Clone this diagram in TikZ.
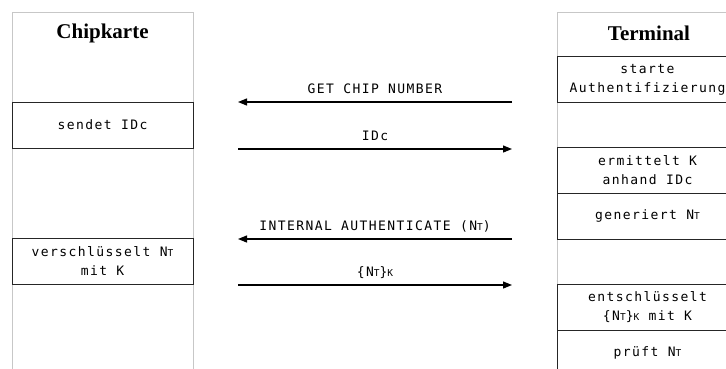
\documentclass[tikz,border=0pt]{standalone}
\usepackage{fontspec}
\setmainfont{Liberation Serif}
\newfontfamily\pixfont[LetterSpace=11]{DejaVu Sans Mono}
\usetikzlibrary{arrows.meta}
% small-capital index letters such as the T in N_T
\newcommand{\idx}[1]{{\fontsize{9.5}{9.5}\selectfont #1}}

\tikzset{
  lane/.style={draw=black!22, line width=1pt},
  stepbox/.style={draw=black!85, line width=1pt, minimum width=181pt,
    minimum height=46pt, align=center, inner sep=0pt,
    font={\pixfont\fontsize{13}{19}\selectfont}},
  head/.style={font={\bfseries\fontsize{21}{24}\selectfont}},
  msg/.style={line width=1.2pt, -{Triangle[length=9pt,width=7pt]}},
  lbl/.style={above, inner sep=7.5pt, text depth=0pt,
    font={\pixfont\fontsize{13}{14}\selectfont}}
}

\begin{document}
\begin{tikzpicture}[x=1pt, y=-1pt]
\useasboundingbox (0,0) rectangle (726,368);
\clip (0,0) rectangle (726,368);

% lanes
\draw[lane] (12,372) -- (12,12) -- (193,12) -- (193,372);
\draw[lane] (557,372) -- (557,12) -- (740,12) -- (740,372);

\node[head] (chip) at (102.5,33) {Chipkarte};
\node[head] (term) at (649,33) {Terminal};

% card side
\node[stepbox] (send) at (102.5,125) {sendet IDc};
\node[stepbox] (enc) at (102.5,261) {verschlüsselt N\idx{T}\\mit K};

% terminal side
\node[stepbox] (start) at (647.5,79.5) {starte\\Authentifizierung};
\node[stepbox] (find) at (647.5,170) {ermittelt K\\anhand IDc};
\node[stepbox] (gen) at (647.5,216) {generiert N\idx{T}};
\node[stepbox] (dec) at (647.5,307) {entschlüsselt\\\{N\idx{T}\}\idx{K} mit K};
\node[stepbox] (chk) at (647.5,353) {prüft N\idx{T}};

% messages
\coordinate (a1) at (512,102); \coordinate (a0) at (238,102);
\coordinate (b0) at (238,149); \coordinate (b1) at (512,149);
\coordinate (c1) at (512,239); \coordinate (c0) at (238,239);
\coordinate (d0) at (238,285); \coordinate (d1) at (512,285);

\draw[msg] (a1) -- node[lbl] {GET CHIP NUMBER} (a0);
\draw[msg] (b0) -- node[lbl] {IDc} (b1);
\draw[msg] (c1) -- node[lbl] {INTERNAL AUTHENTICATE (N\idx{T})} (c0);
\draw[msg] (d0) -- node[lbl] {\{N\idx{T}\}\idx{K}} (d1);
\end{tikzpicture}
\end{document}
